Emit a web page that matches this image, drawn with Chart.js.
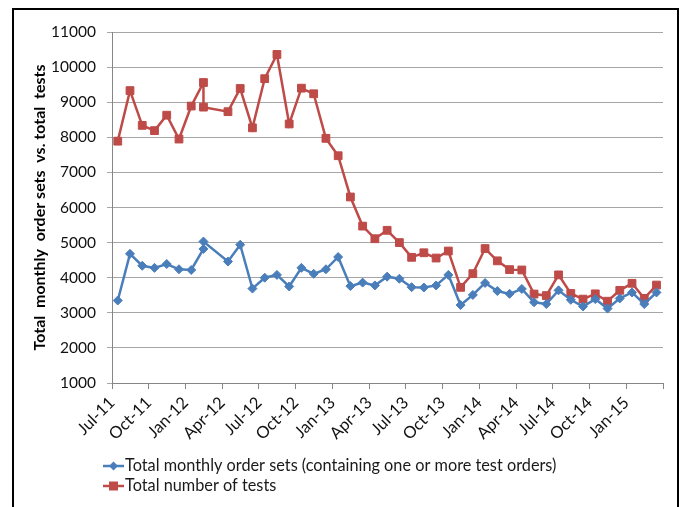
<!DOCTYPE html>
<html><head><meta charset="utf-8">
<script src="https://cdn.jsdelivr.net/npm/chart.js@4/dist/chart.umd.min.js"></script>
<style>
html,body{margin:0;padding:0;background:#fff;}
#wrap{position:relative;width:682px;height:507px;overflow:hidden;background:#fff;}
#frame{position:absolute;left:12px;top:8px;width:667px;height:530px;border:2px solid #000;box-sizing:border-box;pointer-events:none;}
canvas{position:absolute;left:0;top:0;}
</style></head><body>
<div id="wrap"><canvas id="c" width="682" height="507"></canvas><div id="frame"></div></div>
<script>
// Month of each observation (Feb-12 appears twice in the source chart; no Mar-12)
const months = ["Jul-11","Aug-11","Sep-11","Oct-11","Nov-11","Dec-11","Jan-12","Feb-12","Feb-12",
  "Apr-12","May-12","Jun-12","Jul-12","Aug-12","Sep-12","Oct-12","Nov-12","Dec-12",
  "Jan-13","Feb-13","Mar-13","Apr-13","May-13","Jun-13","Jul-13","Aug-13","Sep-13","Oct-13","Nov-13","Dec-13",
  "Jan-14","Feb-14","Mar-14","Apr-14","May-14","Jun-14","Jul-14","Aug-14","Sep-14","Oct-14","Nov-14","Dec-14",
  "Jan-15","Feb-15","Mar-15"];
const orderSets = [3350,4680,4340,4280,4390,4240,4220,4820,5030,
  4460,4940,3690,4000,4080,3750,4280,4110,4240,
  4590,3760,3860,3780,4030,3970,3730,3720,3780,4080,3220,3510,
  3850,3620,3540,3680,3300,3250,3640,3370,3180,3390,3120,3410,
  3580,3250,3580];
const totalTests = [7890,9330,8340,8190,8630,7950,8890,9560,8860,
  8730,9390,8270,9670,10360,8380,9400,9240,7970,
  7475,6300,5470,5110,5350,5000,4580,4710,4560,4760,3725,4115,
  4830,4480,4230,4220,3535,3490,4080,3550,3390,3540,3330,3640,
  3840,3410,3790];
const tickLabels = ["Jul-11","Oct-11","Jan-12","Apr-12","Jul-12","Oct-12","Jan-13","Apr-13",
  "Jul-13","Oct-13","Jan-14","Apr-14","Jul-14","Oct-14","Jan-15"];
const seriesNames = ["Total monthly order sets (containing one or more test orders)","Total number of tests"];
const yTitle = "Total  monthly  order sets  vs. total  tests";

const MON = ["Jan","Feb","Mar","Apr","May","Jun","Jul","Aug","Sep","Oct","Nov","Dec"];
// months elapsed since Jul-11, point sits mid-month
function monthPos(s){
  const [m,y] = s.split("-");
  return (parseInt(y,10)-11)*12 + MON.indexOf(m) - 6 + 0.47;
}
const FONT = "Lato, 'Open Sans', sans-serif";
const BLUE = "#4A7EBB", RED = "#BE4B48";

const legendPlugin = {
  id: 'customLegend',
  afterDraw(chart){
    const ctx = chart.ctx;
    const ys = [466, 486];
    chart.data.datasets.forEach((ds, i) => {
      const y = ys[i];
      ctx.save();
      ctx.strokeStyle = ds.borderColor;
      ctx.lineWidth = 2.5;
      ctx.beginPath(); ctx.moveTo(103, y); ctx.lineTo(124, y); ctx.stroke();
      ctx.fillStyle = ds.backgroundColor;
      ctx.beginPath();
      if (ds.pointStyle === 'rect') {
        ctx.rect(113.5 - 4.5, y - 4.5, 9, 9);
      } else {
        ctx.moveTo(113.5, y - 4.5); ctx.lineTo(118, y); ctx.lineTo(113.5, y + 4.5); ctx.lineTo(109, y); ctx.closePath();
      }
      ctx.fill();
      ctx.fillStyle = "#1a1a1a";
      ctx.font = "16.3px " + FONT;
      ctx.textBaseline = "middle";
      ctx.textAlign = "left";
      ctx.fillText(ds.label, 125, y);
      ctx.restore();
    });
  }
};

new Chart(document.getElementById('c'), {
  type: 'line',
  data: {
    datasets: [
      { label: seriesNames[0],
        data: months.map((m, i) => ({x: monthPos(m), y: orderSets[i]})),
        borderColor: BLUE, backgroundColor: BLUE, borderWidth: 2.5,
        pointStyle: 'rectRot', pointRadius: 4.5, pointBorderWidth: 1,
        pointBackgroundColor: BLUE, pointBorderColor: BLUE, tension: 0 },
      { label: seriesNames[1],
        data: months.map((m, i) => ({x: monthPos(m), y: totalTests[i]})),
        borderColor: RED, backgroundColor: RED, borderWidth: 2.5,
        pointStyle: 'rect', pointRadius: 5.5, pointBorderWidth: 1,
        pointBackgroundColor: RED, pointBorderColor: RED, tension: 0 }
    ]
  },
  options: {
    responsive: false, animation: false, devicePixelRatio: 1,
    layout: { padding: { left: 0, top: 32, right: 19, bottom: 0 } },
    plugins: { legend: { display: false }, tooltip: { enabled: false } },
    scales: {
      x: {
        type: 'linear', min: 0, max: 45,
        ticks: { stepSize: 3, autoSkip: false, minRotation: 45, maxRotation: 45,
          color: "#111", font: { family: FONT, size: 16.5 }, padding: 4,
          callback: (v) => tickLabels[Math.round(v / 3)] || '' },
        grid: { drawOnChartArea: false, drawTicks: true, tickLength: 6, color: "#868686" },
        border: { color: "#868686", width: 1 },
        afterFit: (s) => { s.height = 124; }
      },
      y: {
        min: 1000, max: 11000,
        ticks: { stepSize: 1000, color: "#111", font: { family: FONT, size: 15.5 }, padding: 11,
          callback: (v) => String(v) },
        grid: { color: "#A6A6A6", tickLength: 5, lineWidth: 1 },
        border: { color: "#868686", width: 1 },
        title: { display: true, text: yTitle, color: "#000",
          font: { family: FONT, size: 16, weight: 'bold' }, padding: { top: 30, bottom: 0 } },
        afterFit: (s) => { s.width = 112; }
      }
    }
  },
  plugins: [legendPlugin]
});
</script>
</body></html>
